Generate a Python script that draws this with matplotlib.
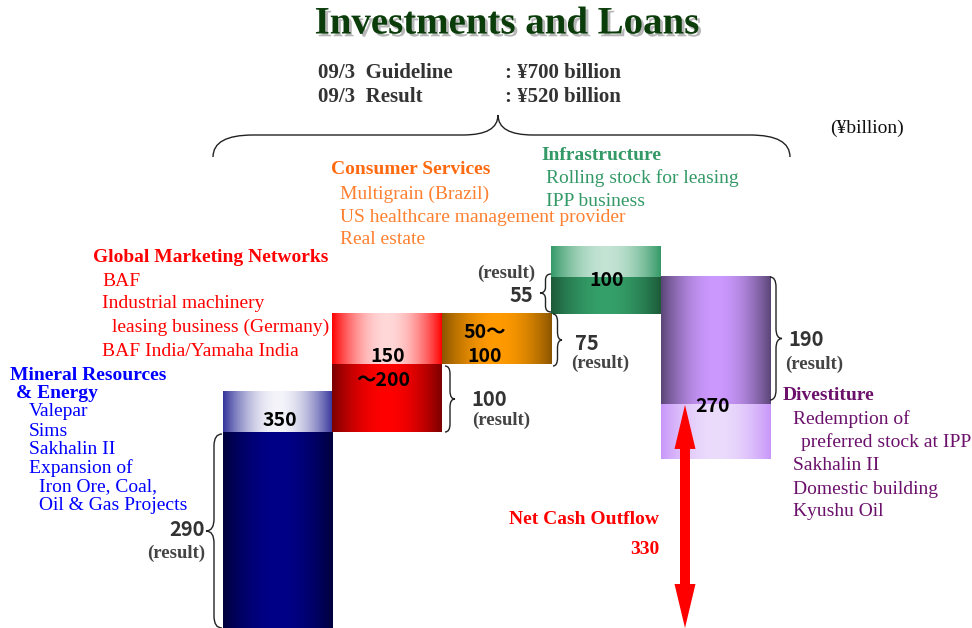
import numpy as np
import matplotlib
matplotlib.use("Agg")
import matplotlib.pyplot as plt
from matplotlib.path import Path
from matplotlib.patches import PathPatch
from matplotlib.colors import to_rgb
import matplotlib.patheffects as pe

# =========================
# Data (¥billion)
# =========================
categories = ["Mineral Resources & Energy", "Global Marketing Networks",
              "Consumer Services", "Infrastructure", "Divestiture"]
result_vals = [290, 100, 75, 55, -190]       # result
plan_vals = [350, 175, 75, 100, -270]        # guideline (drawn extent)
plan_labels = ["350", "150\n〜200", "50〜\n100", "100", "270"]
net_outflow = 330

bases = np.concatenate([[0], np.cumsum(result_vals)[:-1]])

# (edge, centre) colours for the result part and for the guideline part
dark_cols = [("#00003c", "#000088"), ("#7a0000", "#ff0000"), ("#8a5500", "#ff9a00"),
             ("#1c5a38", "#35a06a"), ("#5a4575", "#cc99ff")]
light_cols = [("#33339a", "#f4f4fa"), ("#ff0000", "#ffd8d8"), ("#8a5500", "#ff9a00"),
              ("#339966", "#c4e4d4"), ("#c896fa", "#ecdcfc")]

# =========================
# Figure / axes
# =========================
W, H = 972, 628
X0, SLOT = 223, 109.4      # pixel of first bar, bar width in px
YS = 196 / 290             # px per ¥billion

fig = plt.figure(figsize=(W / 100, H / 100), dpi=100)
ax = fig.add_axes([0, 0, 1, 1])
ax.set_xlim(-X0 / SLOT, (W - X0) / SLOT)
ax.set_ylim(0, H / YS)
ax.axis("off")

ov = fig.add_axes([0, 0, 1, 1], zorder=5)
ov.set_xlim(0, W)
ov.set_ylim(H, 0)
ov.axis("off")
ov.patch.set_alpha(0)


def grad(edge, centre, n=200):
    x = np.linspace(0, 1, n)
    t = np.sin(np.pi * x) ** 0.9
    e, c = np.array(to_rgb(edge)), np.array(to_rgb(centre))
    return (e[None, :] * (1 - t[:, None]) + c[None, :] * t[:, None])[None, :, :]


def gbar(i, y0, y1, cols):
    if y0 == y1:
        return
    lo, hi = min(y0, y1), max(y0, y1)
    ax.imshow(grad(*cols), extent=(i, i + 1, lo, hi), aspect="auto",
              interpolation="bilinear", zorder=2)


for i in range(len(categories)):
    b = bases[i]
    gbar(i, b, b + result_vals[i], dark_cols[i])
    gbar(i, b + result_vals[i], b + plan_vals[i], light_cols[i])

# net cash outflow arrow (double headed, one polygon)
end_val = bases[-1] + result_vals[-1]
cx = (685 - X0) / SLOT
sw, hw, hl = 5 / SLOT, 10.5 / SLOT, 44 / YS
ax.fill([cx, cx + hw, cx + sw, cx + sw, cx + hw, cx, cx - hw, cx - sw, cx - sw, cx - hw],
        [end_val, end_val - hl, end_val - hl, hl, hl, 0, hl, hl, end_val - hl, end_val - hl],
        color="#ff0000", lw=0, zorder=4)

# =========================
# Braces (pixel coords)
# =========================
def vbrace(x, y0, y1, d, r=8):
    ym = (y0 + y1) / 2
    xm = x + d / 2
    verts = [(x, y0), (xm, y0), (xm, y0 + r), (xm, ym - r), (xm, ym), (x + d, ym),
             (xm, ym), (xm, ym + r), (xm, y1 - r), (xm, y1), (x, y1)]
    codes = [Path.MOVETO, Path.CURVE3, Path.CURVE3, Path.LINETO, Path.CURVE3, Path.CURVE3,
             Path.CURVE3, Path.CURVE3, Path.LINETO, Path.CURVE3, Path.CURVE3]
    ov.add_patch(PathPatch(Path(verts, codes), fill=False, lw=1.0, ec="#222222"))


def hbrace(x0, x1, xt, y, yf, yt, r0=40, r1=35):
    verts = [(x0, y), (x0, yf), (x0 + r0, yf), (xt - r1, yf), (xt, yf), (xt, yt),
             (xt, yf), (xt + r1, yf), (x1 - r0, yf), (x1, yf), (x1, y)]
    codes = [Path.MOVETO, Path.CURVE3, Path.CURVE3, Path.LINETO, Path.CURVE3, Path.CURVE3,
             Path.CURVE3, Path.CURVE3, Path.LINETO, Path.CURVE3, Path.CURVE3]
    ov.add_patch(PathPatch(Path(verts, codes), fill=False, lw=1.0, ec="#222222"))


vbrace(222, 434, 628, -16, r=12)
vbrace(445, 366, 432, 10)
vbrace(553, 314, 366, 9)
vbrace(551, 274, 312, -11, r=6)
vbrace(770, 277, 400, 12, r=10)
hbrace(213, 790, 498, 157, 135, 115)

# =========================
# Text
# =========================
SERIF = "Liberation Serif"
GOTH = ["Noto Sans CJK JP", "DejaVu Sans"]


def t(x, y, s, **kw):
    kw.setdefault("family", SERIF)
    kw.setdefault("va", "center")
    kw.setdefault("ha", "left")
    ov.text(x, y, s, **kw)


t(507, 24, "Investments and Loans", ha="center", fontsize=28, weight="bold",
  color="#0b3d0b",
  path_effects=[pe.SimplePatchShadow(offset=(2, -2), shadow_rgbFace="#888888", alpha=0.6),
                pe.Normal()])

t(318, 73, "09/3  Guideline", fontsize=15, weight="bold", color="#333333")
t(505, 73, ": ¥700 billion", fontsize=15, weight="bold", color="#333333")
t(318, 97, "09/3  Result", fontsize=15, weight="bold", color="#333333")
t(505, 97, ": ¥520 billion", fontsize=15, weight="bold", color="#333333")
t(830, 128, "(¥billion)", fontsize=14, color="#111111")

# category blocks
FS = 14
orange, green, red, blue, purple = "#ff6a10", "#339966", "#ff0000", "#0000ff", "#6b106b"
t(331, 170, "Consumer Services", fontsize=FS, weight="bold", color=orange)
for y, s in zip([194, 217, 240], ["Multigrain (Brazil)", "US healthcare management provider",
                                   "Real estate"]):
    t(340, y, s, fontsize=FS, color="#ff8030")

t(541, 155, "Infrastructure", fontsize=FS, weight="bold", color=green)
t(546, 178, "Rolling stock for leasing", fontsize=FS, color=green)
t(546, 201, "IPP business", fontsize=FS, color=green)

t(93, 257, "Global Marketing Networks", fontsize=FS, weight="bold", color=red)
t(102, 281, "BAF", fontsize=FS, color=red)
t(102, 304, "Industrial machinery", fontsize=FS, color=red)
t(112, 327, "leasing business (Germany)", fontsize=FS, color=red)
t(102, 351, "BAF India/Yamaha India", fontsize=FS, color=red)

t(10, 376, "Mineral Resources", fontsize=FS, weight="bold", color=blue)
t(16, 394, "& Energy", fontsize=FS, weight="bold", color=blue)
for x, y, s in [(29, 412, "Valepar"), (29, 431, "Sims"), (29, 449, "Sakhalin II"),
                (29, 468, "Expansion of"), (39, 487, "Iron Ore, Coal,"),
                (39, 506, "Oil & Gas Projects")]:
    t(x, y, s, fontsize=FS, color=blue)

t(783, 395, "Divestiture", fontsize=FS, weight="bold", color=purple)
for x, y, s in [(793, 419, "Redemption of"), (801, 442, "preferred stock at IPP"),
                (793, 465, "Sakhalin II"), (793, 489, "Domestic building"),
                (793, 512, "Kyushu Oil")]:
    t(x, y, s, fontsize=FS, color=purple)

t(659, 519, "Net Cash Outflow", ha="right", fontsize=FS, weight="bold", color=red)
t(659, 549, str(net_outflow), ha="right", fontsize=FS, weight="bold", color=red)

# labels inside bars
bar_txt = [(280, 421, "350"), (388, 356, "150"), (383, 380, "〜200"),
           (485, 333, "50〜"), (485, 357, "100"), (607, 280, "100"), (713, 407, "270")]
for x, y, s in bar_txt:
    t(x, y, s, ha="center", family=GOTH, fontsize=14, weight="bold", color="black")

# result annotations
gray = "#333333"
res = [(205, 530, "290", "right", 205, 553, "right"),
       (471, 399, "100", "left", 472, 420, "left"),
       (575, 343, "75", "left", 571, 363, "left"),
       (533, 295, "55", "right", 477, 273, "left"),
       (788, 339, "190", "left", 785, 364, "left")]
for nx, ny, s, nha, rx, ry, rha in res:
    t(nx, ny, s, ha=nha, family=GOTH, fontsize=14.5, weight="bold", color=gray)
    t(rx, ry, "(result)", ha=rha, fontsize=13.5, weight="bold", color="#444444")

fig.savefig("out.png", dpi=100)
